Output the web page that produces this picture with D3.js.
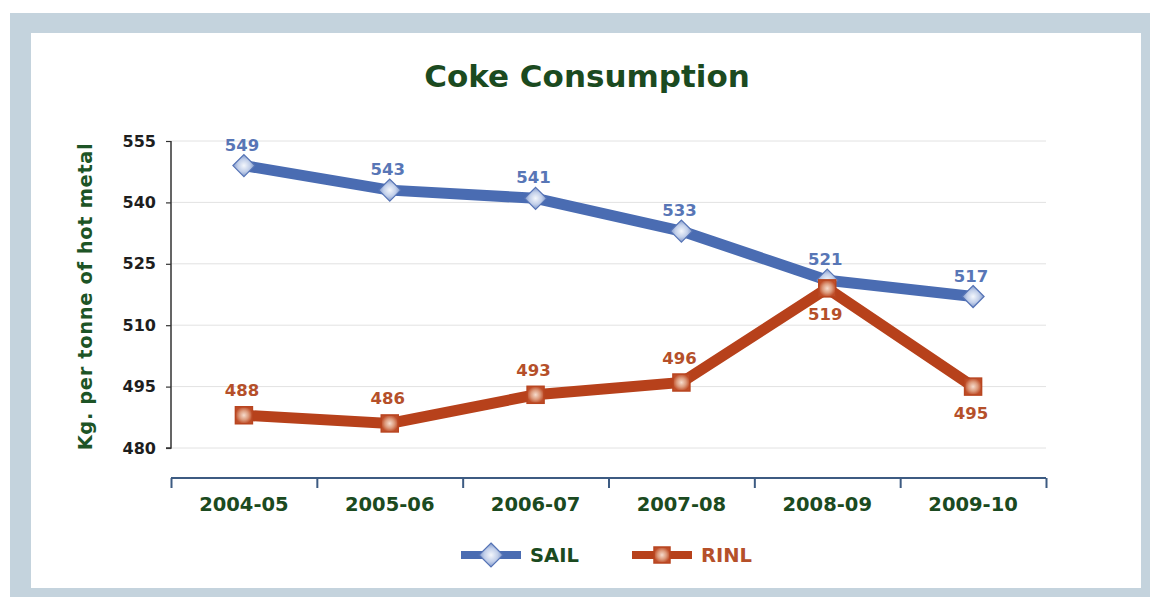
<!DOCTYPE html>
<html>
<head>
<meta charset="utf-8">
<script src="https://cdn.jsdelivr.net/npm/d3@7/dist/d3.min.js"></script>
<style>
  html, body { margin: 0; padding: 0; background: #ffffff; }
  svg { display: block; font-family: "DejaVu Sans", Verdana, sans-serif; }
</style>
</head>
<body>
<svg id="chart" width="1150" height="597"></svg>
<script>
// ---- data ----
const categories = ["2004-05", "2005-06", "2006-07", "2007-08", "2008-09", "2009-10"];
const sailValues = [549, 543, 541, 533, 521, 517];
const rinlValues = [488, 486, 493, 496, 519, 495];
const rinlLabelBelow = [false, false, false, false, true, true];
const yTicks = [480, 495, 510, 525, 540, 555];
const titleText = "Coke Consumption";
const yTitleText = "Kg. per tonne of hot metal";
const seriesNames = ["SAIL", "RINL"];

// ---- layout ----
const svg = d3.select("#chart");
const W = 1150, H = 597;
const plot = { left: 171, right: 1046, top: 141, bottom: 448 };
const xAxisY = 478;

const C = {
  frame: "#c4d3dd",
  sail: "#4a6cb2",
  sailStroke: "#5573b5",
  sailLabel: "#5876b6",
  rinl: "#b7411b",
  rinlStroke: "#b84520",
  rinlLabel: "#b5502a",
  green: "#1b4a20",
  grid: "#e2e2e2",
  axisY: "#333333",
  axisX: "#3d5b82"
};

// gradients
const defs = svg.append("defs");
const gS = defs.append("radialGradient").attr("id", "gSail");
gS.append("stop").attr("offset", "0%").attr("stop-color", "#f4f7fc");
gS.append("stop").attr("offset", "55%").attr("stop-color", "#c3d0ea");
gS.append("stop").attr("offset", "100%").attr("stop-color", "#7d96c9");
const gR = defs.append("radialGradient").attr("id", "gRinl");
gR.append("stop").attr("offset", "0%").attr("stop-color", "#f6dccd");
gR.append("stop").attr("offset", "55%").attr("stop-color", "#dc9a7c");
gR.append("stop").attr("offset", "100%").attr("stop-color", "#bf4d28");

// frame
svg.append("rect").attr("x", 10).attr("y", 13).attr("width", W - 10).attr("height", H - 13).attr("fill", C.frame);
svg.append("rect").attr("x", 31).attr("y", 33).attr("width", 1110).attr("height", 555).attr("fill", "#ffffff");

// scales
const x = d3.scaleBand().domain(categories).range([plot.left, plot.right]).paddingInner(0).paddingOuter(0);
const cx = d => x(d) + x.bandwidth() / 2;
const y = d3.scaleLinear().domain([480, 555]).range([plot.bottom, plot.top]);

// title
svg.append("text")
  .attr("x", 587).attr("y", 87)
  .attr("text-anchor", "middle")
  .attr("font-size", 31).attr("font-weight", "bold")
  .attr("fill", C.green)
  .text(titleText);

// gridlines
svg.append("g").selectAll("line").data(yTicks).join("line")
  .attr("x1", plot.left).attr("x2", plot.right)
  .attr("y1", d => y(d)).attr("y2", d => y(d))
  .attr("stroke", C.grid).attr("stroke-width", 1);

// y axis
const yAxis = d3.axisLeft(y).tickValues(yTicks).tickSize(5).tickPadding(10).tickFormat(d3.format("d"));
const gy = svg.append("g").attr("transform", `translate(${plot.left},0)`).call(yAxis);
gy.select(".domain").attr("stroke", C.axisY).attr("stroke-width", 1.5)
  .attr("d", `M-5,${y(480)}H0V${y(555)}`);
gy.selectAll(".tick line").attr("stroke", C.axisY).attr("stroke-width", 1.2);
gy.selectAll(".tick text").attr("font-size", 16).attr("font-weight", "bold")
  .attr("fill", "#1e1e1e").attr("font-family", "'DejaVu Sans', Verdana, sans-serif");

// y title
svg.append("text")
  .attr("transform", `translate(92,${(plot.top + plot.bottom) / 2 + 2}) rotate(-90)`)
  .attr("text-anchor", "middle")
  .attr("font-size", 19.5).attr("font-weight", "bold")
  .attr("letter-spacing", 0.6)
  .attr("fill", "#1d5426")
  .text(yTitleText);

// x axis (category boundaries)
const xb = d3.scaleLinear().domain([0, categories.length]).range([plot.left, plot.right]);
const xAxis = d3.axisBottom(xb).tickValues(d3.range(0, categories.length + 1)).tickSize(10).tickFormat("");
const gx = svg.append("g").attr("transform", `translate(0,${xAxisY})`).call(xAxis);
gx.select(".domain").attr("stroke", C.axisX).attr("stroke-width", 2.2).attr("d", `M${plot.left},0H${plot.right}`);
gx.selectAll(".tick line").attr("stroke", C.axisX).attr("stroke-width", 2);

// x labels
svg.append("g").selectAll("text").data(categories).join("text")
  .attr("x", d => cx(d)).attr("y", 511)
  .attr("text-anchor", "middle")
  .attr("font-size", 19.5).attr("font-weight", "bold")
  .attr("fill", C.green)
  .text(d => d);

// lines
const line = d3.line().x((d, i) => cx(categories[i])).y(d => y(d));
svg.append("path").datum(rinlValues).attr("d", line)
  .attr("fill", "none").attr("stroke", C.rinl).attr("stroke-width", 11).attr("stroke-linejoin", "miter");
svg.append("path").datum(sailValues).attr("d", line)
  .attr("fill", "none").attr("stroke", C.sail).attr("stroke-width", 11).attr("stroke-linejoin", "round");

// markers
const diamond = s => `M0,${-s}L${s},0L0,${s}L${-s},0Z`;
svg.append("g").selectAll("path").data(sailValues).join("path")
  .attr("transform", (d, i) => `translate(${cx(categories[i])},${y(d)})`)
  .attr("d", diamond(11))
  .attr("fill", "url(#gSail)").attr("stroke", C.sailStroke).attr("stroke-width", 1.2);
svg.append("g").selectAll("rect").data(rinlValues).join("rect")
  .attr("x", (d, i) => cx(categories[i]) - 8.5).attr("y", d => y(d) - 8.5)
  .attr("width", 17).attr("height", 17)
  .attr("fill", "url(#gRinl)").attr("stroke", C.rinlStroke).attr("stroke-width", 1.5);

// data labels
svg.append("g").selectAll("text").data(sailValues).join("text")
  .attr("x", (d, i) => cx(categories[i]) - 2).attr("y", d => y(d) - 15)
  .attr("text-anchor", "middle")
  .attr("font-size", 16.5).attr("font-weight", "bold")
  .attr("fill", C.sailLabel)
  .text(d => d);
svg.append("g").selectAll("text").data(rinlValues).join("text")
  .attr("x", (d, i) => cx(categories[i]) - 2)
  .attr("y", (d, i) => rinlLabelBelow[i] ? y(d) + 32 : y(d) - 19)
  .attr("text-anchor", "middle")
  .attr("font-size", 16.5).attr("font-weight", "bold")
  .attr("fill", C.rinlLabel)
  .text(d => d);

// legend
const legendY = 555;
const legendItems = [
  { name: seriesNames[0], x0: 461, color: C.sail, text: C.green, type: "diamond" },
  { name: seriesNames[1], x0: 632, color: C.rinl, text: C.rinlLabel, type: "square" }
];
const lg = svg.append("g");
legendItems.forEach(it => {
  const g = lg.append("g").attr("transform", `translate(${it.x0},${legendY})`);
  g.append("line").attr("x1", 0).attr("x2", 60).attr("y1", 0).attr("y2", 0)
    .attr("stroke", it.color).attr("stroke-width", 8);
  if (it.type === "diamond") {
    g.append("path").attr("transform", "translate(30,0)").attr("d", diamond(12))
      .attr("fill", "url(#gSail)").attr("stroke", C.sailStroke).attr("stroke-width", 1.2);
  } else {
    g.append("rect").attr("x", 22).attr("y", -8).attr("width", 16).attr("height", 16)
      .attr("fill", "url(#gRinl)").attr("stroke", C.rinlStroke).attr("stroke-width", 1.5);
  }
  g.append("text").attr("x", 69).attr("y", 7)
    .attr("font-size", 19.5).attr("font-weight", "bold")
    .attr("fill", it.text)
    .text(it.name);
});
</script>
</body>
</html>
